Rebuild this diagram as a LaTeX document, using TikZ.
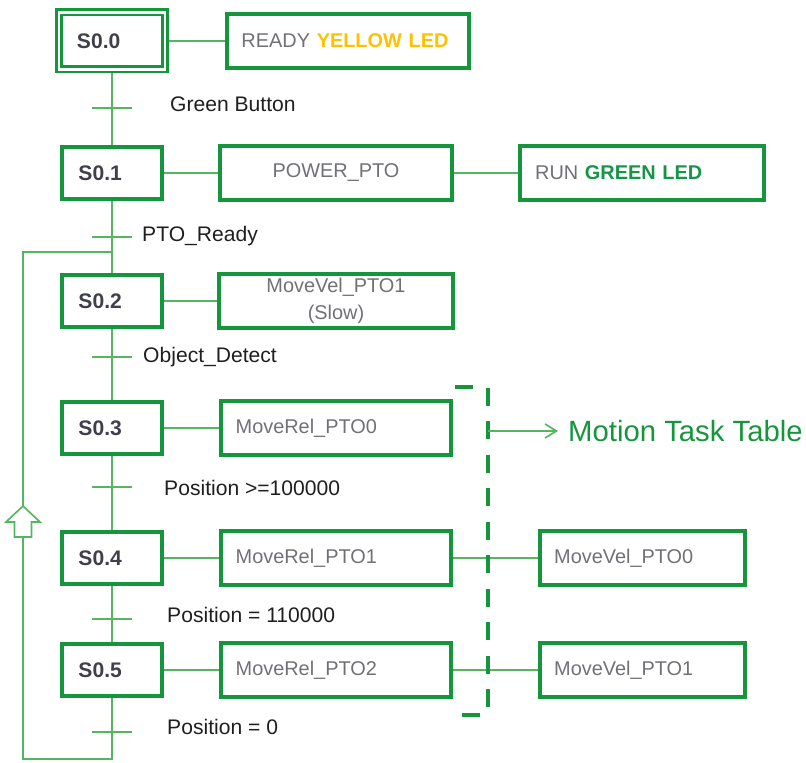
\documentclass[tikz,border=0pt]{standalone}
\usepackage{fontspec}
\setmainfont{Liberation Sans}
\usepackage{xcolor}
\usetikzlibrary{arrows.meta,backgrounds,positioning}
\definecolor{boxgreen}{RGB}{22,150,60}
\definecolor{linegreen}{RGB}{85,182,95}
\definecolor{stepgray}{RGB}{64,64,74}
\definecolor{actgray}{RGB}{112,112,118}
\definecolor{ledyellow}{RGB}{255,192,0}
\definecolor{ledgreen}{RGB}{20,150,70}

\begin{document}
\begin{tikzpicture}[x=0.03cm, y=-0.03cm,
stepbox/.style = {draw=boxgreen, line width=0.12cm, minimum height=1.56cm,
    text width=2.01cm, inner xsep=0.48cm, align=left,
    font=\fontsize{18}{20}\selectfont\bfseries, text=stepgray},
actbox/.style = {draw=boxgreen, line width=0.12cm, minimum height=1.62cm,
    text width=#1, inner xsep=0.44cm, align=left,
    font=\fontsize{17}{23}\selectfont, text=actgray},
conn/.style = {draw=linegreen, line width=0.05cm},
trans/.style = {anchor=west, inner sep=0pt,
    font=\fontsize{18}{20}\selectfont, text=black!88},
bracket/.style = {draw=boxgreen, line width=0.11cm,
    dash pattern=on 0.54cm off 0.465cm}
                        ]
\useasboundingbox (0,0) rectangle (806,763);
% steps
\node (s0) [stepbox, line width=0.085cm, double=white, double distance=0.07cm,
    minimum height=1.71cm, text width=2.1cm, inner xsep=0.54cm] at (112,41) {S0.0};
\foreach \i/\y in {1/173, 2/301, 3/428, 4/558, 5/670}
    \node (s\i) [stepbox] at (112,\y) {S0.\i};
% actions
\node (ready) [actbox=6.39cm] at (348,41)
    {READY \textbf{\textcolor{ledyellow}{YELLOW LED}}};
\node (power) [actbox=6.05cm, align=center] at (336,173) {POWER\_PTO};
\node (run) [actbox=6.41cm] at (642,173)
    {RUN \textbf{\textcolor{ledgreen}{GREEN LED}}};
\node (slow) [actbox=6.11cm, align=center] at (336,301) {MoveVel\_PTO1\\(Slow)};
\foreach \i/\y in {0/428, 1/558, 2/670}
    \node (rel\i) [actbox=6.02cm] at (336,\y) {MoveRel\_PTO\i};
\node (vel0) [actbox=5.27cm] at (642,558) {MoveVel\_PTO0};
\node (vel1) [actbox=5.27cm] at (642,670) {MoveVel\_PTO1};
%
\coordinate (lb) at (23,759);
\coordinate (lt) at (23,252);
\begin{scope}[on background layer]
\foreach \i [count=\xi from 0] in {1,...,5}
    \draw[conn] (s\xi) -- (s\i);
\draw[conn] (s0) -- (ready);
\draw[conn] (s1) -- (power) -- (run);
\draw[conn] (s2) -- (slow);
\draw[conn] (s3) -- (rel0);
\draw[conn] (s4) -- (rel1) -- (vel0);
\draw[conn] (s5) -- (rel2) -- (vel1);
\draw[conn] (s5) |- (lb) -- (lt) -- (lt -| s2);
\end{scope}
% transitions
\foreach \ty/\ly/\x/\txt [count=\i] in {108/104/170/Green Button,
    237/236/142/PTO\_Ready, 357/357/143/Object\_Detect,
    487/488/164/Position >=100000, 619/615/167/Position = 110000,
    732/727/167/Position = 0}
{
    \coordinate (k\i) at (112,\ty);
    \draw[conn] ([xshift=-0.6cm]k\i) -- ([xshift=0.6cm]k\i);
    \node (t\i) [trans] at (\x,\ly) {\txt};
}
% return arrow
\draw[linegreen, line width=0.05cm, fill=white] (23,506) -- (40,522)
    -- (31.5,522) -- (31.5,537) -- (14.5,537) -- (14.5,522) -- (6,522) -- cycle;
% motion task table
\draw[bracket] (455,387) -- (488,387) -- (488,715) -- (462,715);
\coordinate (brk) at (488,431);
\node (mtt) [anchor=west, inner xsep=0.3cm, font=\fontsize{25}{27}\selectfont,
    text=boxgreen] at (558,431) {Motion Task Table};
\draw[conn, -{Straight Barb[length=0.34cm, width=0.42cm]}] (brk) -- (mtt);
\end{tikzpicture}
\end{document}
